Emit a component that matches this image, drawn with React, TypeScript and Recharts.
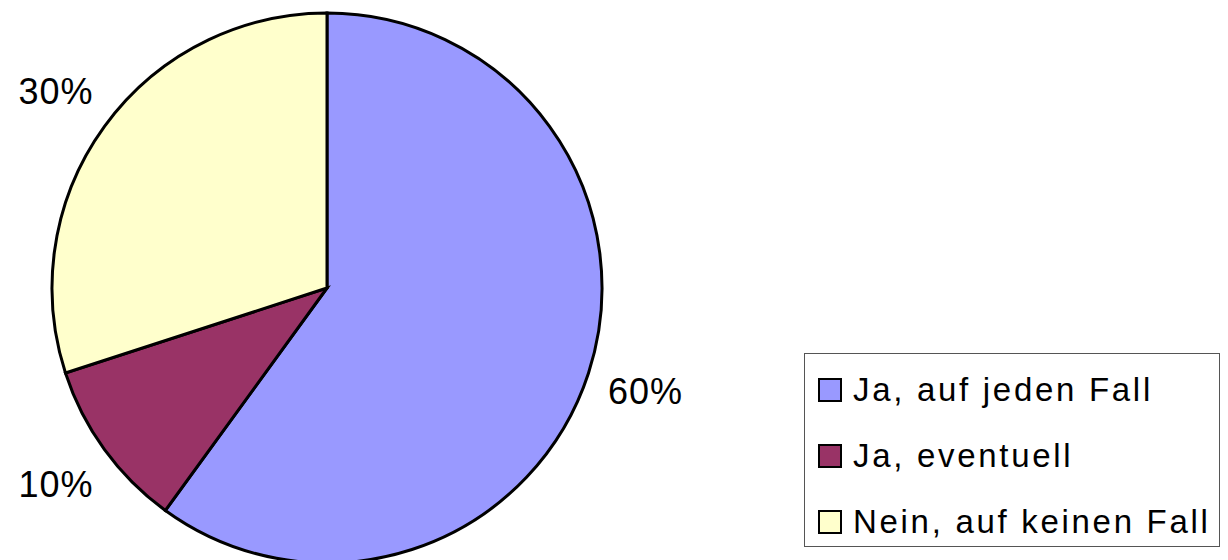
import React from "react";
import { PieChart, Pie, Cell, Legend } from "recharts";

const categories = ["Ja, auf jeden Fall", "Ja, eventuell", "Nein, auf keinen Fall"];
const shares = [60, 10, 30];
const colors = ["#9999FF", "#993366", "#FFFFCC"];

const data = categories.map((name, i) => ({ name, value: shares[i] }));

const RAD = Math.PI / 180;
const font = '"Liberation Sans", Arial, Helvetica, sans-serif';

const renderLabel = (props: any) => {
  const { cx, cy, midAngle, outerRadius, value } = props;
  const r = outerRadius + 60;
  const x = cx + r * Math.cos(-midAngle * RAD);
  const y = cy + r * Math.sin(-midAngle * RAD);
  return (
    <text
      x={x}
      y={y}
      textAnchor="middle"
      dominantBaseline="central"
      fill="#000"
      fontSize={36}
      fontFamily={font}
      letterSpacing={1}
    >
      {`${value}%`}
    </text>
  );
};

const renderLegend = () => (
  <div
    style={{
      boxSizing: "border-box",
      width: 416,
      height: 194,
      border: "1px solid #555",
      background: "#fff",
      paddingTop: 3,
      paddingLeft: 13,
    }}
  >
    {categories.map((name, i) => (
      <div key={name} style={{ display: "flex", alignItems: "center", height: 66 }}>
        <span
          style={{
            boxSizing: "border-box",
            width: 24,
            height: 24,
            border: "2px solid #000",
            background: colors[i],
            marginRight: 11,
            flex: "none",
          }}
        />
        <span
          style={{
            fontFamily: font,
            fontSize: 33,
            letterSpacing: 2.7,
            color: "#000",
            whiteSpace: "nowrap",
          }}
        >
          {name}
        </span>
      </div>
    ))}
  </div>
);

export default function App() {
  return (
    <div style={{ position: "absolute", left: 0, top: 0 }}>
      <PieChart width={1228} height={560} margin={{ top: 0, right: 0, bottom: 0, left: 0 }}>
        <Pie
          data={data}
          dataKey="value"
          nameKey="name"
          cx={327}
          cy={288}
          outerRadius={275}
          startAngle={90}
          endAngle={-270}
          stroke="#000"
          strokeWidth={3}
          label={renderLabel}
          labelLine={false}
          isAnimationActive={false}
        >
          {data.map((d, i) => (
            <Cell key={d.name} fill={colors[i]} />
          ))}
        </Pie>
        <Legend
          content={renderLegend}
          wrapperStyle={{ position: "absolute", left: 804, top: 353, width: 416, height: 194 }}
        />
      </PieChart>
    </div>
  );
}
